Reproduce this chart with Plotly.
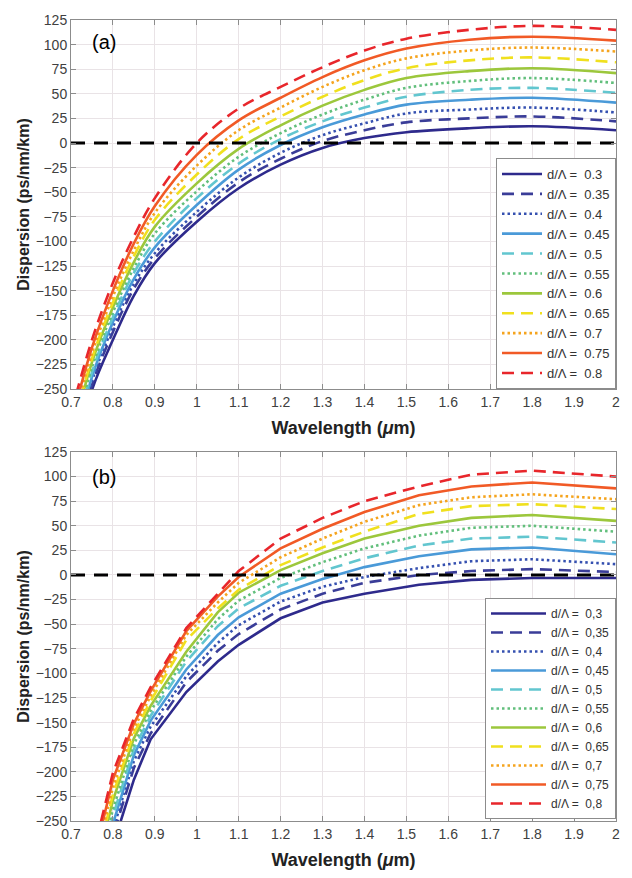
import plotly.graph_objects as go
from plotly.subplots import make_subplots

# ---------------- data ----------------
ratios_a = ["0.3", "0.35", "0.4", "0.45", "0.5", "0.55", "0.6", "0.65", "0.7", "0.75", "0.8"]
ratios_b = ["0,3", "0,35", "0,4", "0,45", "0,5", "0,55", "0,6", "0,65", "0,7", "0,75", "0,8"]

# panel (a) wavelengths (um)
wl_a = [0.70, 0.75, 0.80, 0.85, 0.90, 1.00, 1.10, 1.20, 1.30, 1.40, 1.50, 1.65, 1.80, 2.00]
disp_a_030 = [-333, -251, -200, -155, -122, -80, -46, -22, -5, 5, 11, 15, 17, 13]
disp_a_035 = [-328, -246, -192, -148, -117, -75, -40, -16, 2, 13, 21, 25, 27, 22]
disp_a_040 = [-324, -242, -187, -143, -112, -70, -35, -10, 8, 20, 30, 34, 36, 31]
disp_a_045 = [-319, -238, -182, -138, -106, -63, -27, -2, 16, 29, 39, 44, 46, 41]
disp_a_050 = [-314, -233, -177, -132, -100, -56, -21, 4, 22, 36, 47, 54, 56, 51]
disp_a_055 = [-308, -228, -172, -127, -92, -49, -14, 10, 29, 44, 56, 63, 66, 61]
disp_a_060 = [-302, -223, -167, -121, -85, -41, -6, 18, 38, 54, 66, 73, 76, 71]
disp_a_065 = [-297, -219, -162, -115, -78, -32, 4, 27, 47, 64, 76, 84, 87, 82]
disp_a_070 = [-292, -214, -156, -109, -71, -23, 13, 36, 57, 74, 86, 94, 97, 93]
disp_a_075 = [-285, -208, -150, -102, -64, -12, 23, 46, 67, 84, 96, 105, 108, 104]
disp_a_080 = [-275, -200, -142, -95, -56, 0, 35, 57, 77, 94, 106, 115, 119, 115]

# panel (b) wavelengths (um)
wl_b = [0.75, 0.80, 0.85, 0.89, 0.975, 1.05, 1.10, 1.20, 1.30, 1.40, 1.53, 1.655, 1.80, 2.00]
disp_b_030 = [-365, -275, -208, -167, -119, -88, -71, -44, -28, -19, -10, -5, -3, -3]
disp_b_035 = [-354, -265, -196, -161, -109, -77, -60, -35, -19, -8, 0, 4, 6, 3]
disp_b_040 = [-348, -259, -189, -154, -103, -69, -51, -27, -12, -2, 7, 14, 16, 11]
disp_b_045 = [-342, -253, -183, -148, -96, -61, -43, -19, -4, 8, 19, 26, 28, 21]
disp_b_050 = [-333, -245, -177, -143, -88, -52, -34, -11, 4, 17, 30, 37, 39, 33]
disp_b_055 = [-325, -238, -172, -138, -83, -45, -26, -3, 13, 27, 40, 48, 50, 44]
disp_b_060 = [-317, -229, -166, -133, -78, -38, -18, 5, 22, 37, 50, 58, 61, 55]
disp_b_065 = [-310, -223, -161, -128, -66, -34, -15, 10, 28, 44, 62, 70, 72, 67]
disp_b_070 = [-303, -216, -156, -123, -61, -28, -8, 18, 37, 54, 71, 79, 82, 77]
disp_b_075 = [-296, -208, -151, -118, -57, -22, -2, 27, 47, 64, 81, 90, 94, 88]
disp_b_080 = [-288, -201, -146, -114, -54, -19, 4, 37, 58, 75, 90, 102, 106, 100]

series_a = [disp_a_030, disp_a_035, disp_a_040, disp_a_045, disp_a_050, disp_a_055,
            disp_a_060, disp_a_065, disp_a_070, disp_a_075, disp_a_080]
series_b = [disp_b_030, disp_b_035, disp_b_040, disp_b_045, disp_b_050, disp_b_055,
            disp_b_060, disp_b_065, disp_b_070, disp_b_075, disp_b_080]

x_range = [0.7, 2.0]
y_range = [-250, 125]
x_ticks = [0.7, 0.8, 0.9, 1.0, 1.1, 1.2, 1.3, 1.4, 1.5, 1.6, 1.7, 1.8, 1.9, 2.0]
x_ticklabels = ["0.7", "0.8", "0.9", "1", "1.1", "1.2", "1.3", "1.4", "1.5", "1.6", "1.7", "1.8", "1.9", "2"]
y_ticks = [125, 100, 75, 50, 25, 0, -25, -50, -75, -100, -125, -150, -175, -200, -225, -250]

# ---------------- styles ----------------
colors = ["#2e2a8c", "#3a3d98", "#3550b0", "#4a9ad8", "#62c6cf", "#62bf7c",
          "#9cc73c", "#f0e01e", "#f5a41e", "#f15a26", "#e8262b"]
DASH = "12px,7px"
DOT = "2.5px,3px"
dashes = ["solid", DASH, DOT] * 4

FONT = "Liberation Sans, Arial, sans-serif"

fig = make_subplots(rows=2, cols=1, vertical_spacing=0.0786)

for i in range(11):
    fig.add_trace(go.Scatter(
        x=wl_a, y=series_a[i], mode="lines", line_shape="spline",
        line=dict(color=colors[i], width=2.6, dash=dashes[i]),
        name="d/\u039b =  " + ratios_a[i], legend="legend"), row=1, col=1)
for i in range(11):
    fig.add_trace(go.Scatter(
        x=wl_b, y=series_b[i], mode="lines",
        line=dict(color=colors[i], width=2.6, dash=dashes[i]),
        name="d/\u039b =  " + ratios_b[i], legend="legend2"), row=2, col=1)

# zero reference lines
for r in (1, 2):
    fig.add_trace(go.Scatter(
        x=x_range, y=[0, 0], mode="lines", showlegend=False,
        line=dict(color="black", width=3, dash="14px,9px"), hoverinfo="skip"), row=r, col=1)

axis_common = dict(showline=True, linecolor="#8c8c8c", linewidth=1, mirror="ticks",
                   ticks="inside", ticklen=5, tickcolor="#8c8c8c",
                   showgrid=True, gridcolor="#e9e3e6", gridwidth=1, zeroline=False,
                   tickfont=dict(family=FONT, size=14, color="#404040"))

for r in (1, 2):
    fig.update_xaxes(range=x_range, tickvals=x_ticks, ticktext=x_ticklabels,
                     title=dict(text="<b>Wavelength (</b><b><i>\u03bc</i>m)</b>",
                                font=dict(family=FONT, size=18, color="#222222"), standoff=12),
                     row=r, col=1, **axis_common)
    fig.update_yaxes(range=y_range, tickvals=y_ticks,
                     title=dict(text="<b>Dispersion (ps/nm/km)</b>",
                                font=dict(family=FONT, size=16, color="#222222"), standoff=2),
                     row=r, col=1, **axis_common)

fig.add_annotation(text="(a)", xref="x domain", yref="y domain", x=0.06, y=0.941,
                   xanchor="center", yanchor="middle", showarrow=False,
                   font=dict(family=FONT, size=20, color="black"))
fig.add_annotation(text="(b)", xref="x2 domain", yref="y2 domain", x=0.06, y=0.933,
                   xanchor="center", yanchor="middle", showarrow=False,
                   font=dict(family=FONT, size=20, color="black"))

legend_common = dict(bgcolor="white", bordercolor="#8c8c8c", borderwidth=1,
                     xanchor="right", yanchor="bottom", tracegroupgap=0)

fig.update_layout(
    width=632, height=878,
    margin=dict(l=71, r=15, t=13, b=51),
    paper_bgcolor="white", plot_bgcolor="white",
    legend=dict(x=1.0, y=0.5393, itemwidth=40,
                font=dict(family=FONT, size=13, color="#333333"), **legend_common),
    legend2=dict(x=1.0, y=0.0025, itemwidth=55,
                 font=dict(family=FONT, size=12, color="#333333"), **legend_common),
    showlegend=True,
)

fig.write_html("out.html")
